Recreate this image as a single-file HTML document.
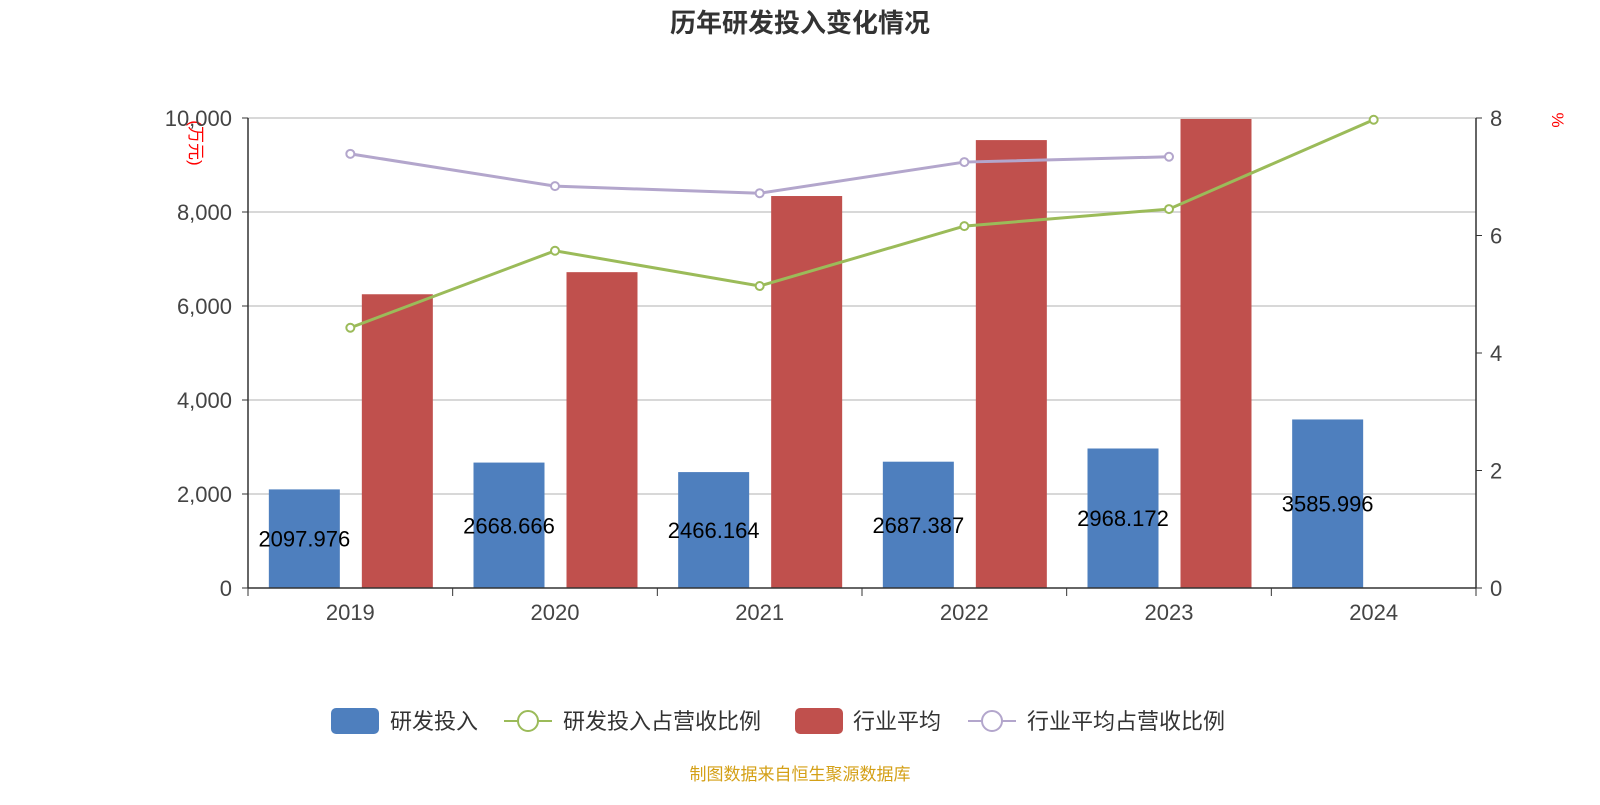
<!DOCTYPE html>
<html><head><meta charset="utf-8"><style>
body{margin:0;background:#fff;}
svg text{font-family:"Liberation Sans","Noto Sans CJK SC",sans-serif;}
</style></head><body>
<svg width="1600" height="800" id="chart">
<text x="800" y="32" text-anchor="middle" font-size="26" font-weight="bold" fill="#333">历年研发投入变化情况</text>
<text transform="translate(190,143) rotate(90)" text-anchor="middle" font-size="17" fill="red">(万元)</text>
<text transform="translate(1552,120) rotate(90)" text-anchor="middle" font-size="17" fill="red">%</text>
<g id="grid"></g><g id="bars"></g><g id="lines"></g><g id="axes"></g>
<g font-size="22" fill="#333">
<rect x="331" y="708" width="48" height="26" rx="5" fill="#4e7fbe"/>
<text x="390" y="729">研发投入</text>
<line x1="504" y1="721" x2="552" y2="721" stroke="#9bbb59" stroke-width="2"/>
<circle cx="528" cy="721" r="10" fill="#fff" stroke="#9bbb59" stroke-width="2"/>
<text x="563" y="729">研发投入占营收比例</text>
<rect x="795" y="708" width="48" height="26" rx="5" fill="#c0504d"/>
<text x="853" y="729">行业平均</text>
<line x1="968" y1="721" x2="1016" y2="721" stroke="#b3a6cc" stroke-width="2"/>
<circle cx="992" cy="721" r="10" fill="#fff" stroke="#b3a6cc" stroke-width="2"/>
<text x="1027" y="729">行业平均占营收比例</text>
</g>
<text x="800" y="780" text-anchor="middle" font-size="17" fill="#d4a017">制图数据来自恒生聚源数据库</text>
</svg>
<script>
const categories=["2019","2020","2021","2022","2023","2024"];
const rdValues=[2097.976,2668.666,2466.164,2687.387,2968.172,3585.996];
const industryValues=[6250,6720,8340,9530,9980,null];
const rdRatio=[4.43,5.74,5.14,6.16,6.45,7.97];
const industryRatio=[7.39,6.84,6.72,7.25,7.34,null];
const leftTicks=[0,2000,4000,6000,8000,10000];
const rightTicks=[0,2,4,6,8];
const NS="http://www.w3.org/2000/svg";
const X0=248,X1=1476,Y0=588,Y1=118;
const band=(X1-X0)/categories.length;
const yL=v=>Y0-(v/10000)*(Y0-Y1);
const yR=v=>Y0-(v/8)*(Y0-Y1);
const xC=i=>X0+band*(i+0.5);
function mk(tag,attrs,parent){const e=document.createElementNS(NS,tag);for(const k in attrs)e.setAttribute(k,attrs[k]);parent.appendChild(e);return e;}
const grid=document.getElementById('grid'),bars=document.getElementById('bars'),lines=document.getElementById('lines'),axes=document.getElementById('axes');
leftTicks.forEach(t=>{
 const y=yL(t);
 if(t>0){const g=mk('line',{x1:X0,x2:X1,y1:y,y2:y,stroke:'#ccc','stroke-width':1.5},grid);
 }
 const tx=mk('text',{x:232,y:y+8,'text-anchor':'end','font-size':22,fill:'#444'},axes);
 tx.textContent=t.toLocaleString('en-US');
 
 mk('line',{x1:X0-6,x2:X0,y1:y,y2:y,stroke:'#333'},axes);
});
rightTicks.forEach(t=>{
 const y=yR(t);
 const tx=mk('text',{x:1490,y:y+8,'font-size':22,fill:'#444'},axes);
 tx.textContent=t;
 
 mk('line',{x1:X1,x2:X1+6,y1:y,y2:y,stroke:'#333'},axes);
});
mk('line',{x1:X0,x2:X0,y1:Y1,y2:Y0,stroke:'#333','stroke-width':1.5},axes);
mk('line',{x1:X1,x2:X1,y1:Y1,y2:Y0,stroke:'#333','stroke-width':1.5},axes);
mk('line',{x1:X0,x2:X1,y1:Y0,y2:Y0,stroke:'#333','stroke-width':1.5},axes);
categories.forEach((c,i)=>{
 const x=X0+band*i;
 mk('line',{x1:x,x2:x,y1:Y0,y2:Y0+8,stroke:'#333'},axes);
 const tx=mk('text',{x:xC(i),y:620,'text-anchor':'middle','font-size':22,fill:'#444'},axes);
 tx.textContent=c;
});
mk('line',{x1:X1,x2:X1,y1:Y0,y2:Y0+8,stroke:'#333'},axes);
const bw=71;
categories.forEach((c,i)=>{
 const v=rdValues[i];
 const b=mk('rect',{x:xC(i)-bw-10+35-35+ -12,y:yL(v),width:bw,height:Y0-yL(v),fill:'#4e7fbe'},bars);
 b.setAttribute('x',xC(i)-bw/2-46);
 
 const lb=mk('text',{x:xC(i)-46,y:(yL(v)+Y0)/2+8,'text-anchor':'middle','font-size':22,fill:'#000'},bars);
 lb.textContent=v.toFixed(3);
 const iv=industryValues[i];
 if(iv!=null){const r=mk('rect',{x:xC(i)-bw/2+47,y:yL(iv),width:bw,height:Y0-yL(iv),fill:'#c0504d'},bars);
 }
});
function series(vals,color,name){
 const pts=[];vals.forEach((v,i)=>{if(v!=null)pts.push([xC(i),yR(v)]);});
 const p=mk('polyline',{points:pts.map(p=>p.join(',')).join(' '),fill:'none',stroke:color,'stroke-width':3},lines);
 
 pts.forEach(pt=>{const c=mk('circle',{cx:pt[0],cy:pt[1],r:4,fill:'#fff',stroke:color,'stroke-width':2},lines);
 });
}
series(industryRatio,'#b3a6cc','industry-ratio');
series(rdRatio,'#9bbb59','rd-ratio');
</script>
</body></html>
